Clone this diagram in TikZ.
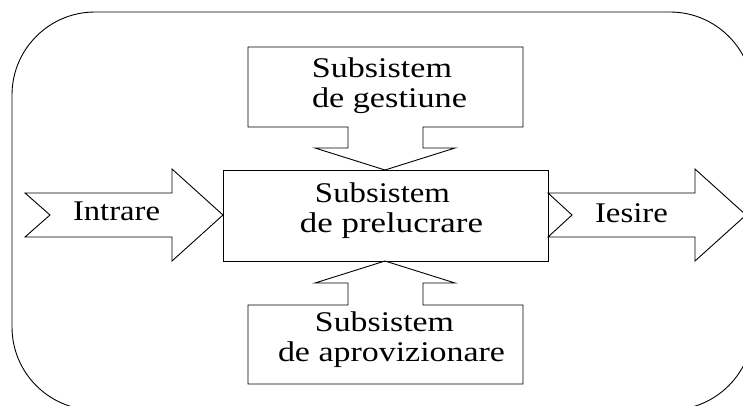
\documentclass[tikz,border=0pt]{standalone}
\usepackage{fontspec}
\setmainfont{Liberation Serif}
% set a word to a given width, keeping its natural height
\newcommand{\wordat}[2]{\resizebox{#1pt}{\height}{#2}}
\begin{document}
\begin{tikzpicture}[x=1pt,y=-1pt,
  outline/.style={draw=black,line width=0.9pt,line join=miter},
  label/.style={inner sep=0pt,align=center,
    font=\fontsize{28.5}{30}\selectfont}]
\useasboundingbox (0,0) rectangle (743,405);
\clip (0,0) rectangle (743,405);

% enclosing system boundary
\draw[outline,rounded corners=83pt] (12,12) rectangle (753,410);

% management subsystem, pointing down into processing
\draw[outline] (248,47) -- (523,47) -- (523,127) -- (423,127) -- (423,148)
  -- (455,148) -- (385,170) -- (315,148) -- (348,148) -- (348,127)
  -- (248,127) -- cycle;

% processing subsystem
\draw[outline] (223,170) rectangle (548,261);

% supply subsystem, pointing up into processing
\draw[outline] (248,384) -- (523,384) -- (523,305) -- (423,305) -- (423,283)
  -- (455,283) -- (385,261) -- (315,283) -- (348,283) -- (348,305)
  -- (248,305) -- cycle;

% input arrow
\draw[outline] (25,193) -- (172,193) -- (172,169) -- (223,215) -- (172,261)
  -- (172,237) -- (25,237) -- (50,215) -- cycle;

% output arrow
\draw[outline] (548,193) -- (695,193) -- (695,169) -- (746,215) -- (695,261)
  -- (695,237) -- (548,237) -- (572,215) -- cycle;

% labels
\node[label] (gest) at (389.5,85.4)
  {\wordat{140}{Subsistem}\hspace*{15pt}\\\wordat{155}{de gestiune}};
\node[label] (prel) at (391.5,210.4)
  {\wordat{135}{Subsistem}\hspace*{18pt}\\\wordat{183}{de prelucrare}};
\node[label] (aprov) at (391.5,339.5)
  {\wordat{139}{Subsistem}\hspace*{14pt}\\\wordat{227}{de aprovizionare}};
\node[label,anchor=base] (intr) at (116.5,220) {\wordat{87}{Intrare}};
\node[label,anchor=base] (ies) at (631.5,222) {\wordat{73}{Iesire}};
\end{tikzpicture}
\end{document}
